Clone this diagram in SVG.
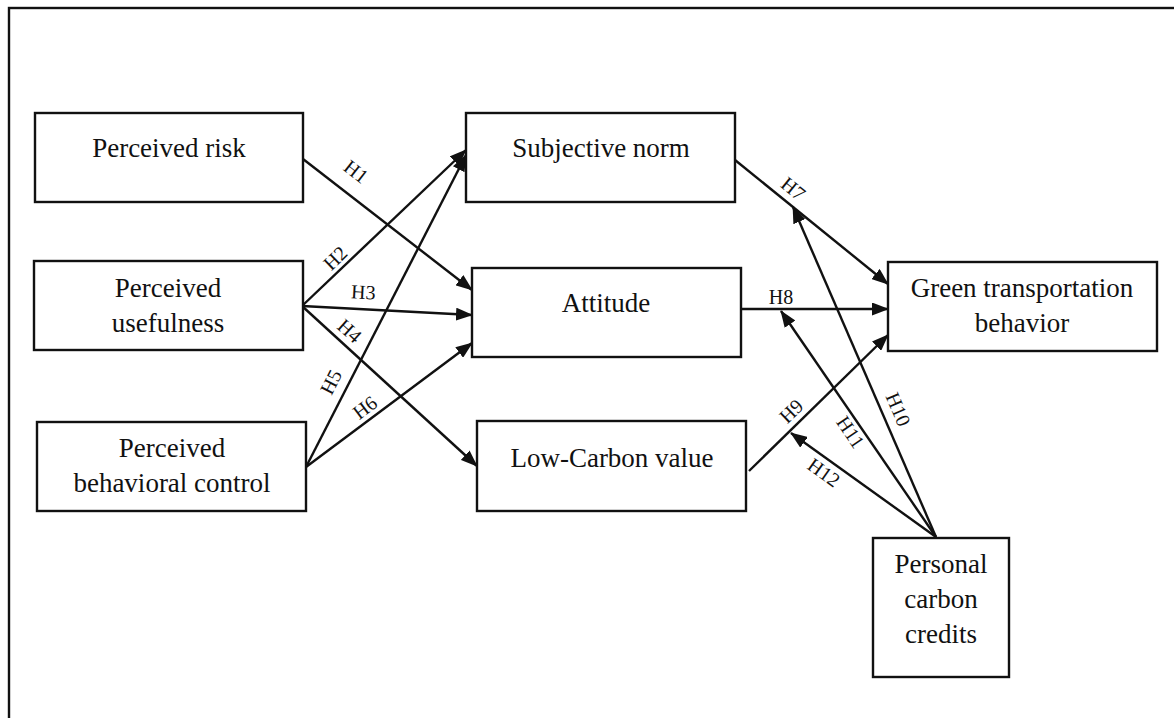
<svg xmlns="http://www.w3.org/2000/svg" width="1174" height="718" viewBox="0 0 1174 718">
<defs>
<style>
.box{fill:#fff;stroke:#111;stroke-width:2.4}
.t{font-family:"Liberation Serif","Times New Roman",serif;font-size:27px;fill:#111;text-anchor:middle}
.h{font-family:"Liberation Serif","Times New Roman",serif;font-size:20px;fill:#111;text-anchor:middle}
.c{stroke:#111;stroke-width:2.4;fill:none;marker-end:url(#ah)}
</style>
<marker id="ah" viewBox="0 0 17 13" refX="16" refY="6.5" markerWidth="17" markerHeight="13" markerUnits="userSpaceOnUse" orient="auto">
<path d="M0,0 L17,6.5 L0,13 z" fill="#111"/>
</marker>
</defs>
<rect x="0" y="0" width="1174" height="718" fill="#fff"/>
<rect x="9" y="8" width="1200" height="800" fill="none" stroke="#111" stroke-width="2.4"/>

<g id="connectors">
<line class="c" x1="303" y1="159" x2="472" y2="290"/>
<line class="c" x1="302" y1="306" x2="466" y2="150"/>
<line class="c" x1="302" y1="306" x2="472" y2="315"/>
<line class="c" x1="302" y1="306" x2="477" y2="466"/>
<line class="c" x1="306" y1="467" x2="466" y2="155"/>
<line class="c" x1="306" y1="467" x2="472" y2="343"/>
<line class="c" x1="735" y1="160" x2="888" y2="284"/>
<line class="c" x1="741" y1="309" x2="888" y2="309"/>
<line class="c" x1="749" y1="471" x2="888" y2="335"/>
<line class="c" x1="936" y1="537" x2="793" y2="207"/>
<line class="c" x1="936" y1="537" x2="781" y2="311"/>
<line class="c" x1="936" y1="537" x2="791" y2="433"/>
<text class="h" transform="translate(352,177) rotate(38)">H1</text>
<text class="h" transform="translate(340,263) rotate(-44)">H2</text>
<text class="h" transform="translate(363,299) rotate(3)">H3</text>
<text class="h" transform="translate(345,336) rotate(42)">H4</text>
<text class="h" transform="translate(337,385) rotate(-63)">H5</text>
<text class="h" transform="translate(369,413) rotate(-37)">H6</text>
<text class="h" transform="translate(789,194) rotate(39)">H7</text>
<text class="h" transform="translate(781,304)">H8</text>
<text class="h" transform="translate(796,416) rotate(-44)">H9</text>
<text class="h" transform="translate(892,412) rotate(66.6)">H10</text>
<text class="h" transform="translate(845,436) rotate(55.6)">H11</text>
<text class="h" transform="translate(820,478) rotate(35.6)">H12</text>
</g>

<g id="perceived-risk">
<rect class="box" x="35" y="113" width="268" height="89"/>
<text class="t" x="169" y="157">Perceived risk</text>
</g>
<g id="perceived-usefulness">
<rect class="box" x="34" y="261" width="269" height="89"/>
<text class="t" x="168" y="297">Perceived</text>
<text class="t" x="168" y="332">usefulness</text>
</g>
<g id="perceived-behavioral-control">
<rect class="box" x="37" y="422" width="269" height="89"/>
<text class="t" x="172" y="457">Perceived</text>
<text class="t" x="172" y="492">behavioral control</text>
</g>
<g id="subjective-norm">
<rect class="box" x="466" y="113" width="269" height="89"/>
<text class="t" x="601" y="157">Subjective norm</text>
</g>
<g id="attitude">
<rect class="box" x="472" y="268" width="269" height="89"/>
<text class="t" x="606" y="312">Attitude</text>
</g>
<g id="low-carbon-value">
<rect class="box" x="477" y="421" width="269" height="90"/>
<text class="t" x="612" y="467">Low-Carbon value</text>
</g>
<g id="green-transportation-behavior">
<rect class="box" x="888" y="262" width="269" height="89"/>
<text class="t" x="1022" y="297">Green transportation</text>
<text class="t" x="1022" y="332">behavior</text>
</g>
<g id="personal-carbon-credits">
<rect class="box" x="873" y="538" width="136" height="139"/>
<text class="t" x="941" y="573">Personal</text>
<text class="t" x="941" y="608">carbon</text>
<text class="t" x="941" y="643">credits</text>
</g>
</svg>
